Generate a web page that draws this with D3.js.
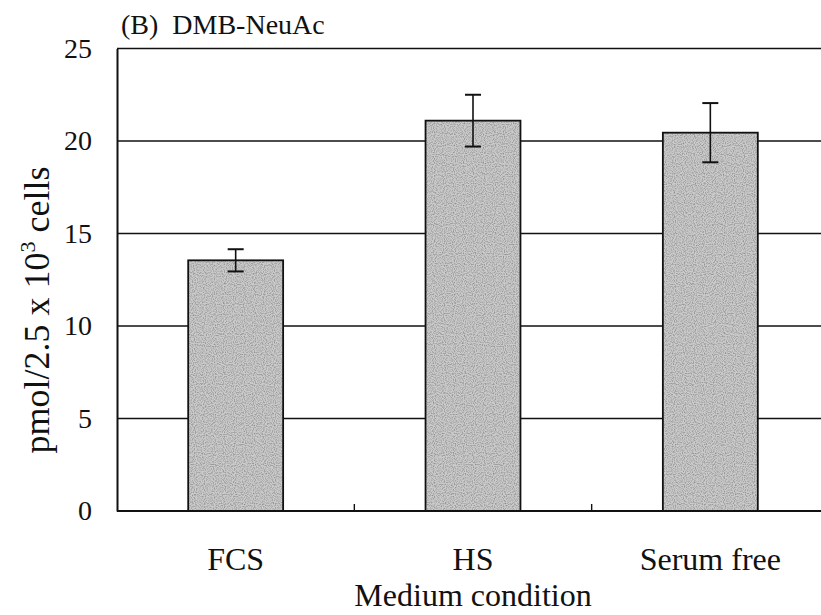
<!DOCTYPE html>
<html>
<head>
<meta charset="utf-8">
<script src="https://cdn.jsdelivr.net/npm/d3@7"></script>
<style>
  html, body { margin: 0; padding: 0; background: #fff; }
  svg text { font-family: "Liberation Serif", "Times New Roman", serif; fill: #111; }
</style>
</head>
<body>
<svg id="chart" width="821" height="615"></svg>
<script>
// DMB-NeuAc content per medium condition (mean ± error)
const categories = ["FCS", "HS", "Serum free"];
const values = [13.55, 21.1, 20.45];
const errors = [0.6, 1.4, 1.6];
const yTicks = [0, 5, 10, 15, 20, 25];

const svg = d3.select("#chart");
const margin = { left: 117, top: 48.5, bottom: 511 };
const plotRight = 829; // plot area runs slightly past the page edge

const x = d3.scaleBand()
  .domain(categories)
  .range([margin.left, plotRight])
  .paddingInner(0.6)
  .paddingOuter(0.3);

const y = d3.scaleLinear().domain([0, 25]).range([margin.bottom, margin.top]);

// stippled grey fill for the bars
const defs = svg.append("defs");
const filt = defs.append("filter").attr("id", "grain")
  .attr("x", 0).attr("y", 0).attr("width", 1).attr("height", 1);
filt.append("feTurbulence").attr("type", "fractalNoise")
  .attr("baseFrequency", 0.9).attr("numOctaves", 1).attr("seed", 3).attr("result", "noise");
filt.append("feColorMatrix").attr("in", "noise").attr("type", "matrix")
  .attr("values", "0 0 0 0 0  0 0 0 0 0  0 0 0 0 0  0 0 0 -1.6 0.95").attr("result", "dots");
filt.append("feComposite").attr("in", "dots").attr("in2", "SourceGraphic").attr("operator", "in");

// horizontal gridlines
svg.append("g")
  .selectAll("line")
  .data(yTicks.filter(d => d > 0))
  .join("line")
  .attr("x1", margin.left).attr("x2", plotRight)
  .attr("y1", d => y(d)).attr("y2", d => y(d))
  .attr("stroke", "#111").attr("stroke-width", 1.4);

// bars
const bars = svg.append("g");
bars.selectAll("rect.fill")
  .data(values)
  .join("rect")
  .attr("class", "fill")
  .attr("x", (d, i) => x(categories[i]))
  .attr("y", d => y(d))
  .attr("width", x.bandwidth())
  .attr("height", d => y(0) - y(d))
  .attr("fill", "#cbcbcb");
bars.selectAll("rect.grain")
  .data(values)
  .join("rect")
  .attr("class", "grain")
  .attr("x", (d, i) => x(categories[i]))
  .attr("y", d => y(d))
  .attr("width", x.bandwidth())
  .attr("height", d => y(0) - y(d))
  .attr("fill", "#8a8a8a")
  .attr("opacity", 0.45)
  .attr("filter", "url(#grain)");
bars.selectAll("rect.edge")
  .data(values)
  .join("rect")
  .attr("class", "edge")
  .attr("x", (d, i) => x(categories[i]))
  .attr("y", d => y(d))
  .attr("width", x.bandwidth())
  .attr("height", d => y(0) - y(d))
  .attr("fill", "none")
  .attr("stroke", "#111")
  .attr("stroke-width", 1.8);

// error bars
const capHalf = 8;
const err = svg.append("g").attr("stroke", "#111").attr("stroke-width", 1.6);
values.forEach((v, i) => {
  const cx = x(categories[i]) + x.bandwidth() / 2;
  err.append("line").attr("x1", cx).attr("x2", cx)
    .attr("y1", y(v - errors[i])).attr("y2", y(v + errors[i]));
  [v - errors[i], v + errors[i]].forEach(e => {
    err.append("line").attr("x1", cx - capHalf).attr("x2", cx + capHalf)
      .attr("y1", y(e)).attr("y2", y(e)).attr("stroke-width", 2);
  });
});

// y axis
const yAxis = svg.append("g")
  .attr("transform", `translate(${margin.left},0)`)
  .call(d3.axisLeft(y).tickValues(yTicks).tickSize(0).tickPadding(25));
yAxis.select(".domain").attr("stroke", "#111").attr("stroke-width", 2);
yAxis.selectAll("text").attr("font-size", 28).style("font-family", "Liberation Serif");

// x axis with ticks between categories
const xAxisY = y(0);
svg.append("line")
  .attr("x1", margin.left).attr("x2", plotRight)
  .attr("y1", xAxisY).attr("y2", xAxisY)
  .attr("stroke", "#111").attr("stroke-width", 2);
const step = x.step();
svg.append("g")
  .selectAll("line")
  .data(categories.slice(1))
  .join("line")
  .attr("x1", d => x(d) - (step - x.bandwidth()) / 2)
  .attr("x2", d => x(d) - (step - x.bandwidth()) / 2)
  .attr("y1", xAxisY).attr("y2", xAxisY - 7)
  .attr("stroke", "#111").attr("stroke-width", 1.4);
svg.append("g")
  .selectAll("text")
  .data(categories)
  .join("text")
  .attr("x", d => x(d) + x.bandwidth() / 2)
  .attr("y", 570)
  .attr("text-anchor", "middle")
  .attr("font-size", 32)
  .text(d => d);

// axis titles
svg.append("text")
  .attr("x", 473).attr("y", 606)
  .attr("text-anchor", "middle")
  .attr("font-size", 32)
  .text("Medium condition");

const yl = svg.append("text")
  .attr("transform", "translate(49,310) rotate(-90)")
  .attr("text-anchor", "middle")
  .attr("font-size", 36);
yl.append("tspan").text("pmol/2.5 x 10");
yl.append("tspan").attr("font-size", 22).attr("dy", -14).text("3");
yl.append("tspan").attr("dy", 14).text(" cells");

// panel title
svg.append("text")
  .attr("x", 121).attr("y", 34)
  .attr("font-size", 28)
  .attr("xml:space", "preserve")
  .style("white-space", "pre")
  .text("(B)  DMB-NeuAc");
</script>
</body>
</html>
